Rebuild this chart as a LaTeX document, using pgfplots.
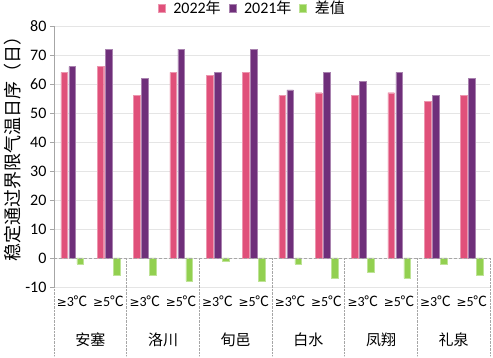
\documentclass[border=0pt]{standalone}
\usepackage{pgfplots}
\pgfplotsset{compat=1.18}
\usepackage{fontspec}
\setmainfont{Carlito}
\newfontfamily\cjk{Noto Sans CJK SC}
\newfontfamily\dv{DejaVu Sans}
\usetikzlibrary{calc}
\definecolor{cpink}{HTML}{E0507A}
\definecolor{cpurple}{HTML}{6F2F7A}
\definecolor{cgreen}{HTML}{92D050}
\newcommand{\thr}[1]{{\dv\fontsize{12}{14}\selectfont ≥}#1{\cjk\hspace{-0.5pt}℃}}
\begin{document}
\begin{tikzpicture}
\begin{axis}[
  scale only axis,
  width=436pt, height=261pt,
  xmin=-0.5, xmax=11.5,
  ymin=-10, ymax=80,
  ytick={-10,0,...,80},
  xtick={0,...,11},
  xticklabels={\thr3,\thr5,\thr3,\thr5,\thr3,\thr5,\thr3,\thr5,\thr3,\thr5,\thr3,\thr5},
  xticklabel style={font=\fontsize{14}{16}\selectfont, yshift=-1pt},
  yticklabel style={font=\fontsize{16}{18}\selectfont},
  /pgf/number format/assume math mode=true,
  axis lines*=left,
  axis line style={-, draw=gray!70},
  x axis line style={draw=none},
  ytick pos=left, tick align=outside,
  major tick length=4pt,
  ytick style={gray!70},
  xtick style={draw=none},
  ymajorgrids, grid style={gray!20},
  ybar, bar width=6.5pt, ybar=1.5pt,
  clip=false,
  legend columns=3,
  legend style={at={(0.455,1)}, anchor=south, yshift=9pt, draw=none, fill=none,
    font=\fontsize{16}{18}\selectfont, column sep=6pt, inner sep=0pt},
  legend image code/.code={\fill[#1] (0pt,-4pt) rectangle (7pt,4pt);},
]
\addplot[fill=cpink, draw=cpink!60!white, line width=0.3pt] coordinates {(0,64) (1,66) (2,56) (3,64) (4,63) (5,64) (6,56) (7,57) (8,56) (9,57) (10,54) (11,56)};
\addlegendentry{2022{\cjk\fontsize{15}{17}\selectfont 年}}
\addplot[fill=cpurple, draw=cpurple!60!white, line width=0.3pt] coordinates {(0,66) (1,72) (2,62) (3,72) (4,64) (5,72) (6,58) (7,64) (8,61) (9,64) (10,56) (11,62)};
\addlegendentry{2021{\cjk\fontsize{15}{17}\selectfont 年}}
\addplot[fill=cgreen, draw=cgreen!60!white, line width=0.3pt] coordinates {(0,-2) (1,-6) (2,-6) (3,-8) (4,-1) (5,-8) (6,-2) (7,-7) (8,-5) (9,-7) (10,-2) (11,-6)};
\addlegendentry{\cjk\fontsize{15}{17}\selectfont 差值}
\draw[gray!70, densely dashed] (axis cs:-0.5,0) -- (axis cs:11.5,0);
\pgfplotsinvokeforeach{-0.5,1.5,3.5,5.5,7.5,9.5,11.5}{
  \draw[gray!70, densely dotted] (axis cs:#1,0) -- (axis cs:#1,-33.8);
}
\node[font=\cjk\fontsize{15}{17}\selectfont] at (axis cs:0.5,-28.3) {安塞};
\node[font=\cjk\fontsize{15}{17}\selectfont] at (axis cs:2.5,-28.3) {洛川};
\node[font=\cjk\fontsize{15}{17}\selectfont] at (axis cs:4.5,-28.3) {旬邑};
\node[font=\cjk\fontsize{15}{17}\selectfont] at (axis cs:6.5,-28.3) {白水};
\node[font=\cjk\fontsize{15}{17}\selectfont] at (axis cs:8.5,-28.3) {凤翔};
\node[font=\cjk\fontsize{15}{17}\selectfont] at (axis cs:10.5,-28.3) {礼泉};
\node[rotate=90, font=\cjk\fontsize{18}{20}\selectfont] at ([xshift=-41pt]axis cs:-0.5,39) {稳定通过界限气温日序（日）};
\coordinate (sw) at (rel axis cs:0,0);
\coordinate (ne) at (rel axis cs:1,1);
\end{axis}
\pgfresetboundingbox
\path ($(sw)+(-54pt,-71pt)$) rectangle ($(ne)+(3pt,26pt)$);
\end{tikzpicture}
\end{document}
